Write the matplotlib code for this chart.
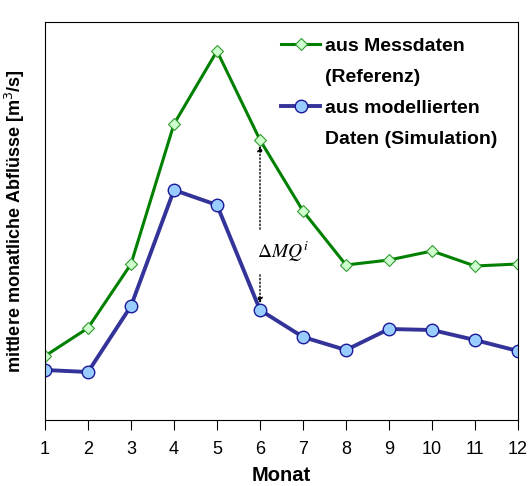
import matplotlib.pyplot as plt
from matplotlib.lines import Line2D

months = [1, 2, 3, 4, 5, 6, 7, 8, 9, 10, 11, 12]
mess = [64, 92, 156, 296, 369, 280, 209, 155, 160, 169, 154, 156]
modell = [50, 48, 114, 230, 215, 110, 83, 70, 91, 90, 80, 69]

plt.rcParams['font.family'] = ['Liberation Sans', 'DejaVu Sans']

fig = plt.figure(figsize=(5.28, 4.86), dpi=100)
ax = fig.add_axes([45 / 528, 66 / 486, 473 / 528, 398 / 486])

h_mess, = ax.plot(months, mess, color='#008000', lw=2.2, marker='D', ms=6,
                  mfc='#ccffcc', mec='#339933', mew=0.8)
h_mod, = ax.plot(months, modell, color='#333399', lw=2.8, marker='o', ms=9,
                 mfc='#99ccff', mec='#1a1a99', mew=1.0)

# Abweichung bei Monat 6
ax.annotate('', xy=(6, mess[5] - 3), xytext=(6, 188),
            arrowprops=dict(arrowstyle='-|>', ls=':', color='black', lw=1,
                            mutation_scale=8))
ax.annotate('', xy=(6, modell[5] + 4), xytext=(6, 148),
            arrowprops=dict(arrowstyle='-|>', ls=':', color='black', lw=1,
                            mutation_scale=8))
ax.text(5.93, 168, r'$\mathit{\Delta MQ^i}$', fontsize=14, ha='left', va='center',
        math_fontfamily='stix')

ax.set_xlim(1, 12)
ax.set_ylim(0, 398)
ax.set_xticks(months)
ax.set_yticks([])
ax.tick_params(axis='x', direction='out', length=7, labelsize=13, pad=8)
ax.set_xlabel('Monat', fontsize=14.5, fontweight='bold', labelpad=6)
ax.set_ylabel('mittlere monatliche Abflüsse [m$^3$/s]', fontsize=13,
              fontweight='bold', labelpad=13)

# Legende: Handle jeweils an der ersten Zeile
blank = Line2D([], [], alpha=0)
handles = [h_mess, blank, h_mod, blank]
labels = ['aus Messdaten', '(Referenz)', 'aus modellierten', 'Daten (Simulation)']
leg = ax.legend(handles, labels, loc='upper right', bbox_to_anchor=(0.985, 0.995),
                frameon=False, prop={'weight': 'bold', 'size': 14},
                handlelength=2.0, handletextpad=0.25, labelspacing=0.68,
                borderaxespad=0.3)

fig.savefig('out.png', dpi=100)
